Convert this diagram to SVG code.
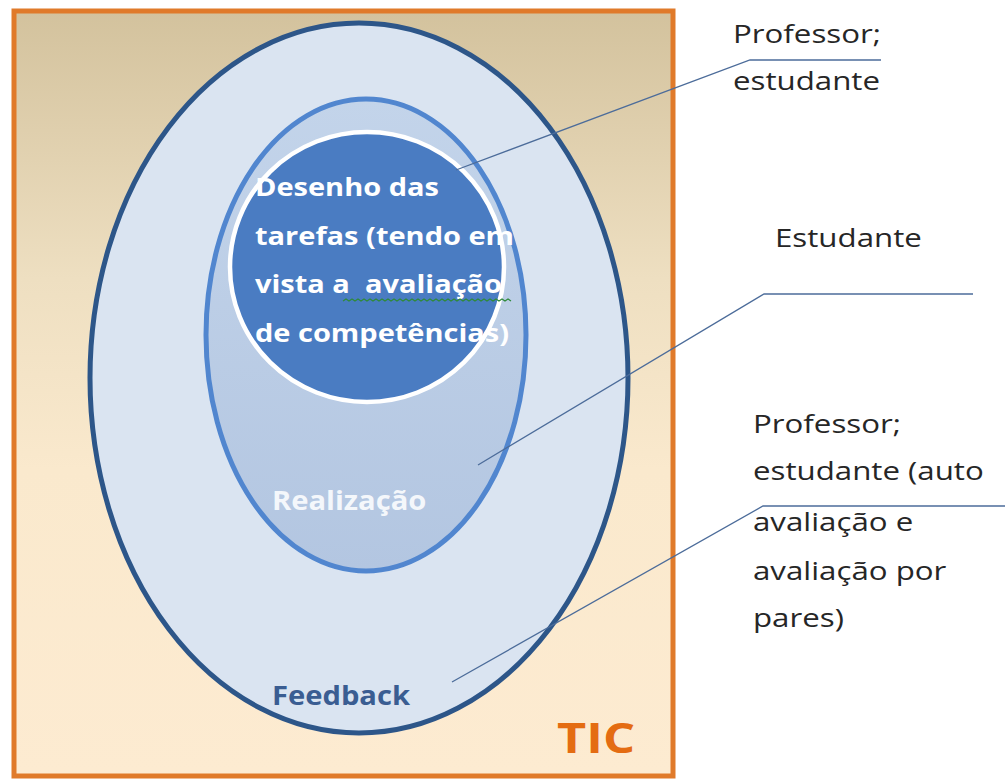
<svg xmlns="http://www.w3.org/2000/svg" width="1005" height="782" viewBox="0 0 1005 782">
  <defs>
    <linearGradient id="bgGrad" x1="0" y1="0" x2="0" y2="1">
      <stop offset="0" stop-color="#D3C29D"/>
      <stop offset="0.35" stop-color="#EEDFC1"/>
      <stop offset="0.6" stop-color="#FAE9CD"/>
      <stop offset="1" stop-color="#FDEBD1"/>
    </linearGradient>
    <linearGradient id="midGrad" x1="0" y1="0" x2="0" y2="1">
      <stop offset="0" stop-color="#C3D4EA"/>
      <stop offset="1" stop-color="#B3C6E1"/>
    </linearGradient>
  </defs>
  <style>
    .inner { font-family: "Open Sans", "Liberation Sans", sans-serif; font-weight: bold; font-size: 25px; fill: #FFFFFF; }
    .ring { font-family: "Open Sans", "Liberation Sans", sans-serif; font-weight: bold; font-size: 27px; }
    .side { font-family: "Open Sans", "Liberation Sans", sans-serif; font-size: 25px; fill: #262626; }
    .conn { fill: none; stroke: #4C6C9A; stroke-width: 1.3; }
  </style>

  <g id="tic-frame">
    <rect x="14" y="11" width="659" height="765" fill="url(#bgGrad)" stroke="#E07A2A" stroke-width="5"/>
    <text transform="translate(635 753) scale(1.2 1)" text-anchor="end" font-family="Open Sans, Liberation Sans, sans-serif" font-weight="bold" font-size="42" fill="#E46C12">TIC</text>
  </g>

  <g id="feedback">
    <ellipse cx="359" cy="378" rx="269" ry="355" fill="#DAE4F1" stroke="#2D5689" stroke-width="5"/>
    <text class="ring" transform="translate(272 705) scale(1.08 1)" fill="#3A5D92">Feedback</text>
  </g>

  <g id="realizacao">
    <ellipse cx="366" cy="335" rx="160" ry="236" fill="url(#midGrad)" stroke="#5186CF" stroke-width="5"/>
    <text class="ring" transform="translate(272 510) scale(1.08 1)" fill="#F4F7FB">Realização</text>
  </g>

  <g id="desenho">
    <ellipse cx="367" cy="267" rx="137" ry="135" fill="#4A7CC2" stroke="#FFFFFF" stroke-width="4.5"/>
    <text class="inner" transform="translate(255 0) scale(1.16 1)">
      <tspan x="0" y="196">Desenho das</tspan>
      <tspan x="0" y="245">tarefas (tendo em</tspan>
      <tspan x="0" y="293">vista a&#160; avaliação</tspan>
      <tspan x="0" y="342">de competências)</tspan>
    </text>
    <path d="M343 301 l3 -2 l3 2 l3 -2 l3 2 l3 -2 l3 2 l3 -2 l3 2 l3 -2 l3 2 l3 -2 l3 2 l3 -2 l3 2 l3 -2 l3 2 l3 -2 l3 2 l3 -2 l3 2 l3 -2 l3 2 l3 -2 l3 2 l3 -2 l3 2 l3 -2 l3 2 l3 -2 l3 2 l3 -2 l3 2 l3 -2 l3 2 l3 -2 l3 2 l3 -2 l3 2 l3 -2 l3 2 l3 -2 l3 2 l3 -2 l3 2 l3 -2 l3 2 l3 -2 l3 2 l3 -2 l3 2 l3 -2 l3 2 l3 -2 l3 2 l3 -2 l3 2" fill="none" stroke="#2F8A3A" stroke-width="1.2"/>
  </g>

  <g id="label-design">
    <text class="side" transform="translate(733 0) scale(1.25 1)">
      <tspan x="0" y="43">Professor;</tspan>
      <tspan x="0" y="90">estudante</tspan>
    </text>
  </g>

  <g id="label-realizacao">
    <text class="side" transform="translate(775 247) scale(1.25 1)">Estudante</text>
  </g>

  <g id="label-feedback">
    <text class="side" transform="translate(753 0) scale(1.25 1)">
      <tspan x="0" y="433">Professor;</tspan>
      <tspan x="0" y="480">estudante (auto</tspan>
      <tspan x="0" y="531">avaliação e</tspan>
      <tspan x="0" y="580">avaliação por</tspan>
      <tspan x="0" y="627">pares)</tspan>
    </text>
  </g>

  <g id="connectors">
    <polyline class="conn" points="456,170 750,60 881,60"/>
    <polyline class="conn" points="478,465 764,294 973,294"/>
    <polyline class="conn" points="452,682 763,506 1005,506"/>
  </g>
</svg>
